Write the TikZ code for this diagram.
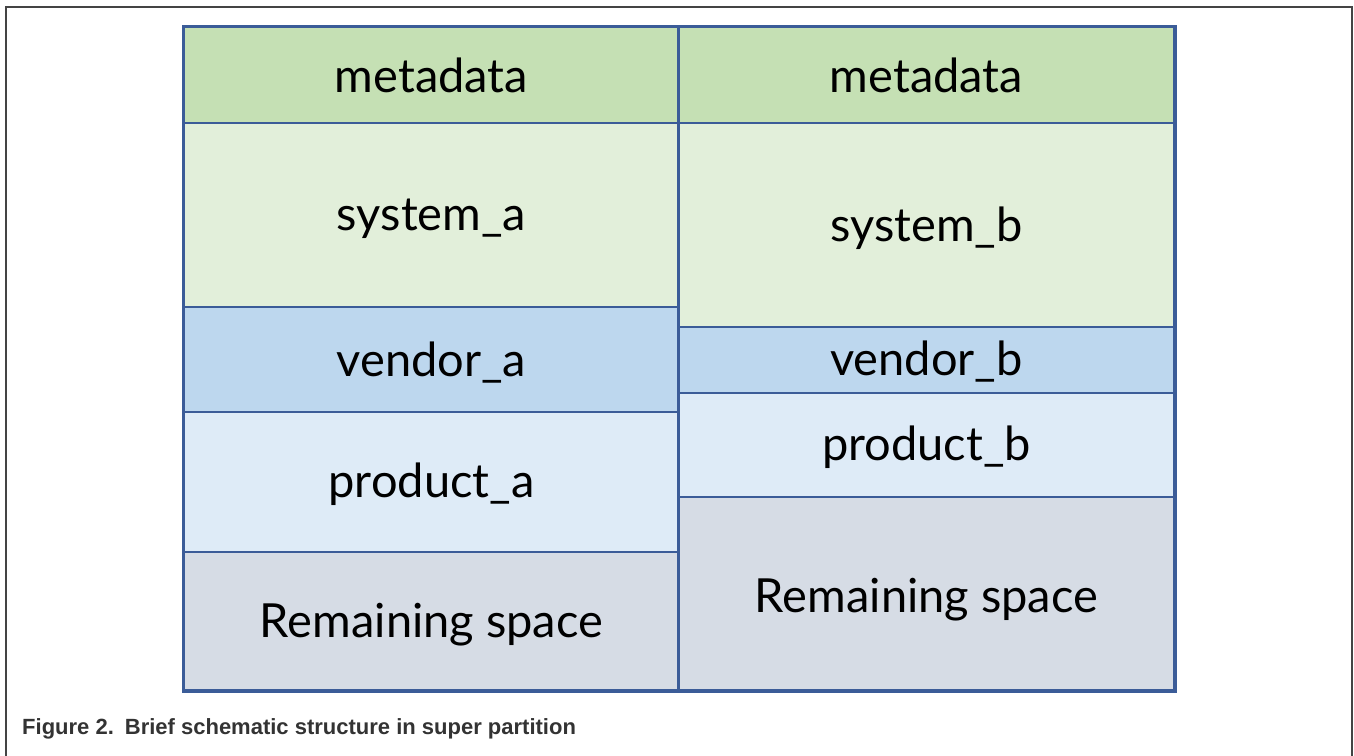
\documentclass[tikz,border=0pt]{standalone}
\usepackage{fontspec}
\setmainfont{Lato}
\newfontfamily\capfont{Liberation Sans}
\definecolor{tblue}{HTML}{3B5C98}
\definecolor{cmeta}{HTML}{C5E0B4}
\definecolor{csys}{HTML}{E2EFDA}
\definecolor{cvend}{HTML}{BDD7EE}
\definecolor{cprod}{HTML}{DEEBF7}
\definecolor{crem}{HTML}{D6DCE5}
\definecolor{frameg}{HTML}{444444}
\definecolor{capg}{HTML}{333333}
\begin{document}
\begin{tikzpicture}[x=1pt,y=-1pt,
  cell/.style={draw=tblue, line width=2pt, rectangle, inner sep=0pt, minimum width=495pt, anchor=north west},
  lbl/.style={anchor=base, inner sep=0pt, font=\fontsize{47}{50}\selectfont, text=black},
  frameline/.style={draw=frameg, line width=2.5pt}]
\useasboundingbox (0,0) rectangle (1354,755);
% outer frame
\coordinate (f1) at (6,760);
\coordinate (f2) at (6,7);
\coordinate (f3) at (1352,7);
\coordinate (f4) at (1352,760);
\draw[frameline] (f1) -- (f2) -- (f3) -- (f4);
% left column
\node[cell, fill=cmeta, minimum height=96pt]  (ma) at (183,26) {};
\node[cell, fill=csys,  minimum height=184pt] (sa) at (183,122) {};
\node[cell, fill=cvend, minimum height=105pt] (va) at (183,306) {};
\node[cell, fill=cprod, minimum height=140pt] (pa) at (183,411) {};
\node[cell, fill=crem,  minimum height=138pt] (ra) at (183,551) {};
% right column
\node[cell, fill=cmeta, minimum height=96pt]  (mb) at (678,26) {};
\node[cell, fill=csys,  minimum height=204pt] (sb) at (678,122) {};
\node[cell, fill=cvend, minimum height=66pt]  (vb) at (678,326) {};
\node[cell, fill=cprod, minimum height=104pt] (pb) at (678,392) {};
\node[cell, fill=crem,  minimum height=193pt] (rb) at (678,496) {};
% outer table border
\draw[draw=tblue, line width=3pt] (ma.north west) rectangle (rb.south east);
\draw[draw=tblue, line width=3pt] (mb.north west) -- (rb.south west);
% labels
\node[lbl] (tma) at (ma.center |- 0,92)  {metadata};
\node[lbl] (tsa) at (sa.center |- 0,230) {system\_a};
\node[lbl] (tva) at (va.center |- 0,376) {vendor\_a};
\node[lbl] (tpa) at (pa.center |- 0,497) {product\_a};
\node[lbl] (tra) at (ra.center |- 0,637) {Remaining space};
\node[lbl] (tmb) at (mb.center |- 0,92)  {metadata};
\node[lbl] (tsb) at (sb.center |- 0,241) {system\_b};
\node[lbl] (tvb) at (vb.center |- 0,375) {vendor\_b};
\node[lbl] (tpb) at (pb.center |- 0,460) {product\_b};
\node[lbl] (trb) at (rb.center |- 0,612) {Remaining space};
% caption
\node[anchor=base west, inner sep=0pt, text=capg, font=\capfont\bfseries\fontsize{22}{24}\selectfont] (cap) at (22,734) {Figure 2.\hspace{0.5em}Brief schematic structure in super partition};
\end{tikzpicture}
\end{document}
